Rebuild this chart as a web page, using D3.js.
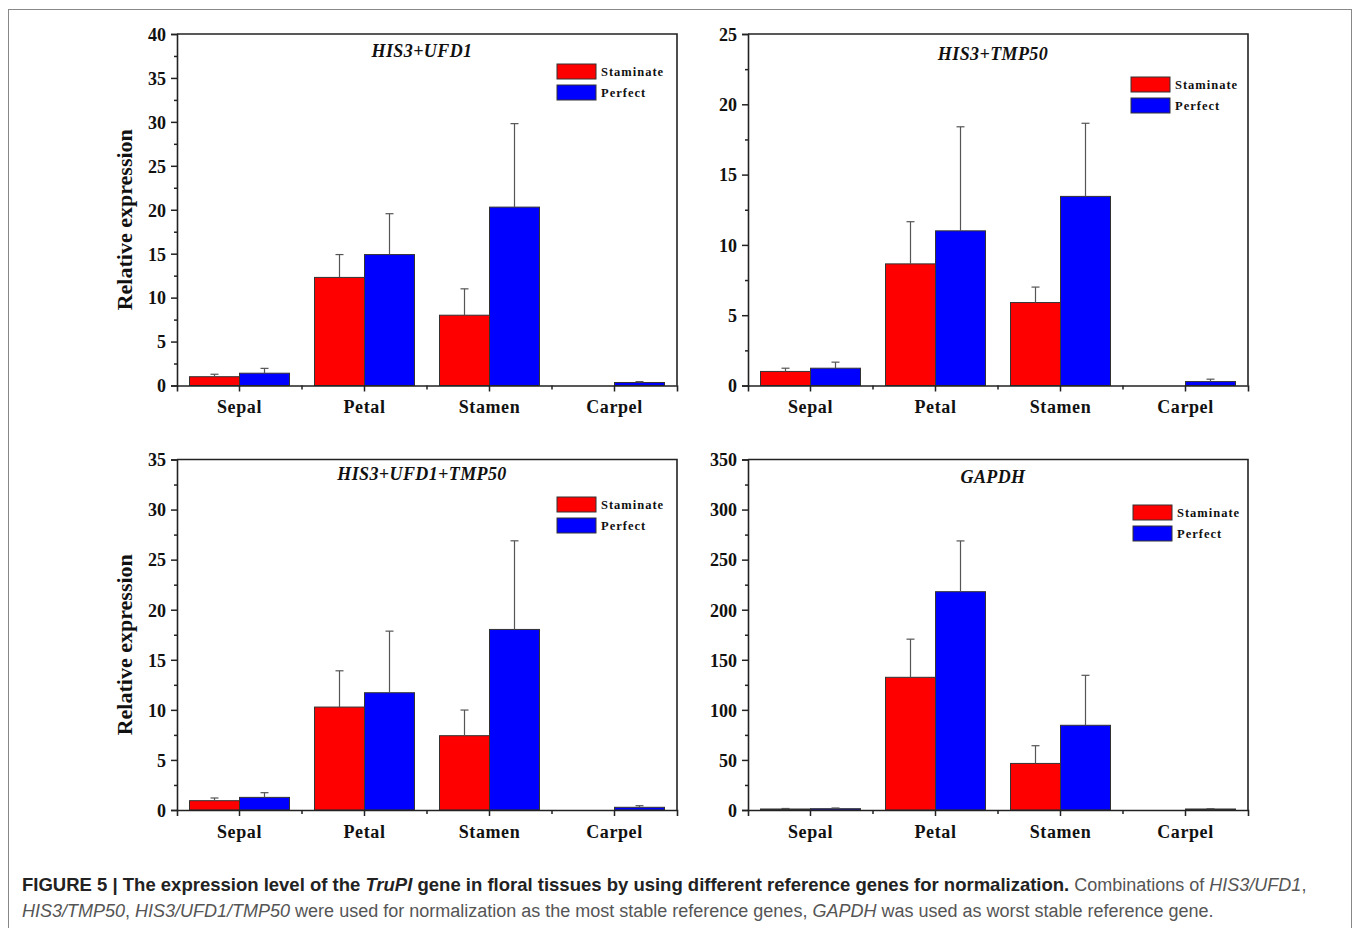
<!DOCTYPE html>
<html>
<head>
<meta charset="utf-8">
<script src="https://cdn.jsdelivr.net/npm/d3@7"></script>
<style>
    body { margin: 0; background: #fff; }
    svg { display: block; }
    .tick-label { font-family: "Liberation Serif", "Times New Roman", serif; font-weight: bold; font-size: 18px; fill: #111; }
    .cat-label { font-family: "Liberation Serif", "Times New Roman", serif; font-weight: bold; font-size: 18px; fill: #111; letter-spacing: 0.6px; }
    .panel-title { font-family: "Liberation Serif", "Times New Roman", serif; font-weight: bold; font-style: italic; font-size: 18px; fill: #111; letter-spacing: 0.4px; }
    .y-label { font-family: "Liberation Serif", "Times New Roman", serif; font-weight: bold; font-size: 22px; fill: #111; }
    .legend-text { font-family: "Liberation Serif", "Times New Roman", serif; font-weight: bold; font-size: 12.5px; fill: #111; letter-spacing: 1px; }
    .caption { font-family: "Liberation Sans", Arial, sans-serif; font-size: 18px; fill: #555; }
    .caption .strong { font-weight: bold; fill: #222; font-size: 18.5px; }
</style>
</head>
<body>
<div id="chart"></div>
<script>
// categories
const tissues = ["Sepal", "Petal", "Stamen", "Carpel"];
const groups = ["Staminate", "Perfect"];
const groupColors = ["#ff0000", "#0000ff"];

// HIS3+UFD1
const ufd1Staminate = [1.0, 12.3, 8.0, 0];
const ufd1StaminateErr = [0.28, 2.6, 3.0, 0];
const ufd1Perfect = [1.4, 14.9, 20.3, 0.34];
const ufd1PerfectErr = [0.55, 4.65, 9.5, 0.1];

// HIS3+TMP50
const tmp50Staminate = [1.0, 8.65, 5.9, 0];
const tmp50StaminateErr = [0.23, 3.0, 1.1, 0];
const tmp50Perfect = [1.23, 11.0, 13.45, 0.28];
const tmp50PerfectErr = [0.43, 7.4, 5.2, 0.17];

// HIS3+UFD1+TMP50
const tripleStaminate = [0.93, 10.28, 7.42, 0];
const tripleStaminateErr = [0.27, 3.62, 2.56, 0];
const triplePerfect = [1.26, 11.71, 18.03, 0.27];
const triplePerfectErr = [0.47, 6.15, 8.85, 0.16];

// GAPDH
const gapdhStaminate = [1.0, 132.5, 46.5, 0];
const gapdhStaminateErr = [0.5, 38.1, 17.7, 0];
const gapdhPerfect = [1.3, 218, 84.6, 1.0];
const gapdhPerfectErr = [0.7, 50.7, 49.9, 0.3];

// y axis tick labels per panel
const ufd1Ticks = [0, 5, 10, 15, 20, 25, 30, 35, 40];
const tmp50Ticks = [0, 5, 10, 15, 20, 25];
const tripleTicks = [0, 5, 10, 15, 20, 25, 30, 35];
const gapdhTicks = [0, 50, 100, 150, 200, 250, 300, 350];

const panels = [
    { title: "HIS3+UFD1", ticks: ufd1Ticks, series: [ufd1Staminate, ufd1Perfect], errs: [ufd1StaminateErr, ufd1PerfectErr],
      x0: 177, x1: 677, y0: 34, y1: 385.5, ylabel: true, titleY: 57, legend: [557, 64] },
    { title: "HIS3+TMP50", ticks: tmp50Ticks, series: [tmp50Staminate, tmp50Perfect], errs: [tmp50StaminateErr, tmp50PerfectErr],
      x0: 748, x1: 1248, y0: 34, y1: 385.5, ylabel: false, titleY: 60, legend: [1131, 77] },
    { title: "HIS3+UFD1+TMP50", ticks: tripleTicks, series: [tripleStaminate, triplePerfect], errs: [tripleStaminateErr, triplePerfectErr],
      x0: 177, x1: 677, y0: 459.5, y1: 810, ylabel: true, titleY: 480, legend: [557, 497] },
    { title: "GAPDH", ticks: gapdhTicks, series: [gapdhStaminate, gapdhPerfect], errs: [gapdhStaminateErr, gapdhPerfectErr],
      x0: 748, x1: 1248, y0: 459.5, y1: 810, ylabel: false, titleY: 483, legend: [1133, 505] }
];

const width = 1360, height = 928;
const svg = d3.select("#chart").append("svg")
    .attr("width", width)
    .attr("height", height);

// outer figure frame
svg.append("rect")
    .attr("x", 8.5).attr("y", 9.5)
    .attr("width", 1343).attr("height", 940)
    .attr("fill", "none")
    .attr("stroke", "#888")
    .attr("stroke-width", 1);

panels.forEach(drawPanel);

function drawPanel(p) {
    const g = svg.append("g");
    const yMax = p.ticks[p.ticks.length - 1];
    const step = p.ticks[1] - p.ticks[0];

    const x = d3.scaleBand().domain(tissues).range([p.x0, p.x1]).paddingInner(0).paddingOuter(0);
    const xGroup = d3.scaleBand().domain(groups).range([0, x.bandwidth()]).paddingInner(0).paddingOuter(0.25);
    const y = d3.scaleLinear().domain([0, yMax]).range([p.y1, p.y0]);

    // bars
    p.series.forEach((vals, gi) => {
        tissues.forEach((t, ti) => {
            const v = vals[ti];
            if (v <= 0) return;
            const bx = x(t) + xGroup(groups[gi]);
            g.append("rect")
                .attr("x", bx)
                .attr("y", y(v))
                .attr("width", xGroup.bandwidth())
                .attr("height", y(0) - y(v))
                .attr("fill", groupColors[gi])
                .attr("stroke", "#333")
                .attr("stroke-width", 1);
            const e = p.errs[gi][ti];
            if (e > 0) {
                const cx = bx + xGroup.bandwidth() / 2;
                g.append("line")
                    .attr("x1", cx).attr("x2", cx)
                    .attr("y1", y(v)).attr("y2", y(v + e))
                    .attr("stroke", "#555").attr("stroke-width", 1.2);
                g.append("line")
                    .attr("x1", cx - 4).attr("x2", cx + 4)
                    .attr("y1", y(v + e)).attr("y2", y(v + e))
                    .attr("stroke", "#555").attr("stroke-width", 1.2);
            }
        });
    });

    // y axis with minor ticks
    const yAxis = d3.axisLeft(y).tickValues(p.ticks).tickSize(6).tickPadding(5);
    const yAx = g.append("g").attr("transform", `translate(${p.x0},0)`).call(yAxis);
    yAx.selectAll("text").attr("class", "tick-label").attr("dy", "0.35em");
    const minors = p.ticks.slice(0, -1).map(t => t + step / 2);
    g.append("g").attr("transform", `translate(${p.x0},0)`)
        .call(d3.axisLeft(y).tickValues(minors).tickSize(3).tickFormat(""))
        .select(".domain").remove();

    // x axis: major ticks at categories, minor at boundaries
    const xAx = g.append("g").attr("transform", `translate(0,${p.y1})`)
        .call(d3.axisBottom(x).tickSize(6).tickPadding(9));
    xAx.selectAll("text").attr("class", "cat-label");
    const bounds = tissues.slice(1).map(t => x(t));
    bounds.forEach(bx => {
        g.append("line").attr("x1", bx).attr("x2", bx)
            .attr("y1", p.y1).attr("y2", p.y1 + 4)
            .attr("stroke", "#222").attr("stroke-width", 1.5);
    });
    g.selectAll(".domain").attr("stroke", "#222").attr("stroke-width", 1.6);
    g.selectAll(".tick line").attr("stroke", "#222").attr("stroke-width", 1.5);

    // top and right frame
    g.append("path")
        .attr("d", `M${p.x0},${p.y0}H${p.x1}V${p.y1}`)
        .attr("fill", "none")
        .attr("stroke", "#222")
        .attr("stroke-width", 1.6);

    // title
    g.append("text")
        .attr("class", "panel-title")
        .attr("x", (p.x0 + p.x1) / 2 - 5)
        .attr("y", p.titleY)
        .attr("text-anchor", "middle")
        .text(p.title);

    // legend
    groups.forEach((name, i) => {
        const lx = p.legend[0], ly = p.legend[1] + i * 21;
        g.append("rect")
            .attr("x", lx).attr("y", ly)
            .attr("width", 39).attr("height", 15)
            .attr("fill", groupColors[i])
            .attr("stroke", "#333").attr("stroke-width", 1);
        g.append("text")
            .attr("class", "legend-text")
            .attr("x", lx + 44).attr("y", ly + 12)
            .text(name);
    });

    if (p.ylabel) {
        g.append("text")
            .attr("class", "y-label")
            .attr("transform", `translate(132,${(p.y0 + p.y1) / 2 + 10}) rotate(-90)`)
            .attr("text-anchor", "middle")
            .text("Relative expression");
    }
}

// caption
const cap1 = svg.append("text").attr("class", "caption").attr("x", 22).attr("y", 891);
cap1.append("tspan").attr("class", "strong").text("FIGURE 5 | The expression level of the ");
cap1.append("tspan").attr("class", "strong").attr("font-style", "italic").text("TruPI");
cap1.append("tspan").attr("class", "strong").text(" gene in floral tissues by using different reference genes for normalization.");
cap1.append("tspan").text(" Combinations of ");
cap1.append("tspan").attr("font-style", "italic").text("HIS3/UFD1");
cap1.append("tspan").text(",");

const cap2 = svg.append("text").attr("class", "caption").attr("x", 22).attr("y", 917);
cap2.append("tspan").attr("font-style", "italic").text("HIS3/TMP50");
cap2.append("tspan").text(", ");
cap2.append("tspan").attr("font-style", "italic").text("HIS3/UFD1/TMP50");
cap2.append("tspan").text(" were used for normalization as the most stable reference genes, ");
cap2.append("tspan").attr("font-style", "italic").text("GAPDH");
cap2.append("tspan").text(" was used as worst stable reference gene.");
</script>
</body>
</html>
